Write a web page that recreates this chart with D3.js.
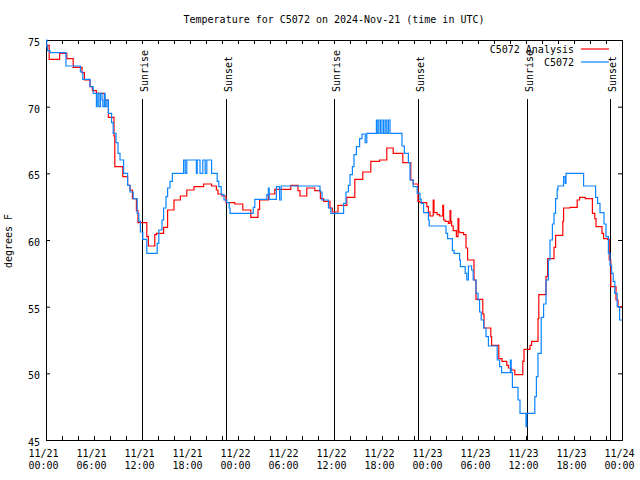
<!DOCTYPE html>
<html>
<head>
<meta charset="utf-8">
<script src="https://cdn.jsdelivr.net/npm/d3@7"></script>
<style>
  html, body { margin: 0; padding: 0; background: #fff; }
  svg { display: block; }
  text { font-family: "DejaVu Sans Mono", monospace; font-size: 10px; fill: #000; }
</style>
</head>
<body>
<svg id="chart" width="640" height="480"></svg>
<script>
// ---------------- DATA ----------------
const titleText = "Temperature for C5072 on 2024-Nov-21 (time in UTC)";
const yLabel = "degrees F";
const startTime = Date.UTC(2024, 10, 21, 0, 0);
const endTime = Date.UTC(2024, 10, 24, 0, 0);
const yTicks = [45, 50, 55, 60, 65, 70, 75];
const seriesNames = ["C5072 Analysis", "C5072"];

// hours since 11/21 00:00 UTC
const analysisHours = [0, 0.4, 1.7, 2.6, 3.4, 4.5, 4.8, 5.5, 5.8, 6.3, 7.3, 7.8, 8.5, 8.6, 9.6, 10.2, 10.5, 10.8, 11.3, 11.5,
  12.6, 12.8, 13.6, 13.8, 14.7, 15.2, 16.0, 16.8, 17.6, 18.5, 19.7, 20.7, 21.3, 21.5, 22.0, 22.5, 23.6, 24.6, 25.6, 26.5,
  26.7, 27.8, 28.6, 30.6, 31.5, 31.75, 32.6, 33.6, 34.3, 34.7, 35.5, 35.8, 36.5, 37.6, 38.6, 39.6, 40.6, 41.7, 42.6, 43.4,
  44.6, 45.6, 45.9, 46.5, 46.75, 47.6, 47.8, 48.0, 48.4, 48.5, 48.9, 49.2, 49.6, 49.7, 49.9, 50.3, 50.5, 50.6, 50.7, 50.9,
  51.3, 51.5, 51.6, 51.75, 52.2, 52.5, 52.7, 53.5, 53.75, 54.6, 54.75, 55.6, 55.7, 56.6, 57.0, 57.6, 57.8, 58.2, 58.6, 59.6,
  59.75, 60.5, 60.7, 61.5, 61.6, 62.5, 62.7, 63.5, 63.7, 64.6, 64.7, 65.5, 66.4, 66.7, 67.4, 68.3, 68.6, 68.75, 69.5, 69.7,
  70.2, 70.4, 70.6, 71.25, 71.5, 72];
const analysisTemps = [74.6, 73.55, 74.0, 73.6, 72.95, 72.55, 72.0, 71.5, 71.2, 71.0, 70.5, 69.2, 67.8, 65.5, 64.75, 64.1, 63.75, 63.1, 62.2, 61.3,
  60.25, 59.55, 60.4, 60.5, 60.95, 62.25, 63.0, 63.3, 63.75, 64.0, 64.2, 64.05, 63.75, 63.45, 63.3, 62.8, 62.7, 62.25, 61.7, 62.3,
  63.0, 63.45, 63.8, 64.1, 63.7, 63.3, 63.9, 63.7, 63.1, 62.9, 62.4, 62.1, 62.6, 63.2, 64.55, 65.1, 65.9, 66.0, 66.9, 66.5,
  65.8, 64.5, 64.2, 62.9, 62.8, 62.5, 62.1, 61.8, 63.0, 62.05, 61.9, 61.8, 62.6, 61.5, 61.4, 61.25, 62.2, 61.4, 61.05, 60.7,
  60.25, 61.6, 60.6, 60.55, 60.4, 59.4, 58.5, 57.0, 55.55, 54.45, 53.4, 52.75, 52.1, 51.1, 50.9, 50.6, 50.4, 50.25, 49.9, 50.9,
  51.8, 52.1, 52.4, 54.1, 55.9, 57.25, 58.6, 59.45, 60.35, 61.4, 62.4, 62.45, 63.0, 63.2, 63.1, 62.0, 61.6, 61.0, 60.5, 60.1,
  60.05, 58.5, 56.5, 55.5, 55.0, 55.0];

const obsHours = [0, 0.1, 0.2, 0.5, 2.5, 4.3, 4.6, 5.5, 5.9, 6.3, 6.4, 6.6, 6.8, 7.0, 7.1, 7.3, 7.4, 7.6, 7.8, 8.2,
  8.4, 8.75, 9.0, 9.25, 9.7, 10.2, 10.5, 10.9, 11.4, 11.6, 11.8, 12.1, 12.6, 13.9, 14.1, 14.5, 14.7, 15.0, 15.2, 15.5,
  15.8, 17.2, 17.4, 17.6, 18.8, 18.9, 19.25, 19.6, 19.9, 20.1, 20.7, 21.4, 21.6, 21.9, 22.25, 22.6, 22.9, 23.0, 25.9, 26.1,
  27.6, 27.8, 27.9, 28.8, 29.2, 29.4, 34.25, 34.5, 35.3, 35.6, 37.2, 37.5, 37.8, 38.0, 38.3, 38.5, 38.8, 39.2, 39.5, 39.9,
  40.1, 41.3, 41.4, 41.6, 41.8, 42.0, 42.2, 42.4, 42.6, 42.8, 43.0, 44.5, 44.8, 45.3, 45.5, 45.9, 46.4, 46.75, 46.9, 47.2,
  47.8, 47.9, 50.0, 50.2, 50.8, 51.0, 51.7, 51.8, 52.4, 52.6, 52.8, 53.2, 53.4, 53.75, 54.0, 54.2, 54.4, 54.7, 55.0, 55.3,
  56.4, 56.7, 56.95, 58.05, 58.15, 58.3, 59.0, 59.25, 60.0, 60.1, 61.1, 61.3, 61.5, 61.9, 62.2, 62.5, 62.8, 63.0, 63.3, 63.5,
  63.7, 63.9, 64.0, 64.7, 64.9, 65.0, 67.2, 68.7, 68.95, 69.25, 69.75, 70.0, 70.3, 70.5, 70.7, 70.9, 71.1, 71.4, 71.7, 72];
const obsTemps = [75.0, 74.5, 74.2, 74.05, 73.05, 72.6, 72.05, 71.5, 71.0, 70.0, 71.0, 70.0, 71.0, 70.5, 70.0, 71.0, 70.0, 70.5, 69.5, 68.8,
  68.0, 67.3, 66.5, 66.0, 65.0, 64.1, 63.6, 63.1, 62.0, 61.4, 60.6, 60.05, 59.0, 59.75, 60.75, 61.5, 62.4, 63.25, 63.9, 64.4,
  65.0, 66.0, 65.0, 66.0, 65.0, 66.0, 65.0, 66.0, 65.0, 66.0, 65.0, 64.4, 64.0, 63.4, 63.0, 62.8, 62.4, 62.0, 62.45, 63.05,
  63.4, 63.9, 63.05, 64.0, 63.0, 64.05, 63.6, 63.0, 62.4, 62.0, 62.75, 63.6, 64.1, 64.9, 65.5, 66.4, 67.0, 67.6, 67.95, 67.3,
  68.0, 69.0, 68.0, 69.0, 68.0, 69.0, 68.0, 69.0, 68.0, 69.0, 68.0, 67.05, 66.5, 65.8, 64.5, 64.0, 63.5, 63.05, 62.75, 62.05,
  61.5, 61.05, 60.5, 60.1, 59.2, 59.0, 58.5, 58.0, 57.5, 57.0, 58.05, 57.75, 57.0, 56.0, 55.5, 54.6, 54.0, 53.4, 52.75, 52.05,
  51.0, 50.5, 50.05, 51.0, 50.05, 48.95, 48.0, 47.0, 46.0, 47.0, 48.25, 49.75, 51.5, 54.2, 55.2, 57.0, 58.5, 60.0, 61.2, 62.0,
  63.1, 63.8, 64.05, 64.75, 64.25, 65.0, 64.05, 63.2, 62.75, 62.05, 61.2, 60.25, 59.0, 58.1, 57.5, 56.9, 56.0, 55.0, 54.0, 54.0];

const sunEventHours = [12.0, 22.5, 36.05, 46.45, 60.07, 70.45];
const sunEventLabels = ["Sunrise", "Sunset", "Sunrise", "Sunset", "Sunrise", "Sunset"];

// ---------------- LAYOUT ----------------
const colors = ["#ff0000", "#0a84ff"];
const margin = { left: 46, top: 40, right: 622, bottom: 440 };
const svg = d3.select("#chart");
const toDate = h => new Date(startTime + h * 3600e3);

const x = d3.scaleUtc().domain([new Date(startTime), new Date(endTime)]).range([margin.left, margin.right]);
const y = d3.scaleLinear().domain([45, 75]).range([margin.bottom, margin.top]);

// title
svg.append("text").attr("x", 334).attr("y", 23).attr("text-anchor", "middle").text(titleText);

// y label
svg.append("text").attr("transform", "translate(12,241) rotate(-90)").attr("text-anchor", "middle").text(yLabel);

// axes
const fmtDay = d3.utcFormat("%m/%d"), fmtTime = d3.utcFormat("%H:%M");
const xTicks = d3.utcHour.every(2).range(new Date(startTime), new Date(endTime + 1));

const xb = svg.append("g").attr("transform", `translate(0,${margin.bottom})`)
  .call(d3.axisBottom(x).tickValues(xTicks).tickSize(-4).tickFormat(""));
xb.select(".domain").remove();
xb.selectAll(".tick").each(function (d) {
  if (d.getUTCHours() % 6 !== 0) return;
  const t = d3.select(this).select("text").attr("y", 0).attr("dy", null).text(null);
  t.append("tspan").attr("x", -3).attr("y", 17).text(fmtDay(d));
  t.append("tspan").attr("x", -3).attr("y", 28.5).text(fmtTime(d));
});
const xt = svg.append("g").attr("transform", `translate(0,${margin.top})`)
  .call(d3.axisTop(x).tickValues(xTicks).tickSize(-4).tickFormat(""));
xt.select(".domain").remove();

const yl = svg.append("g").attr("transform", `translate(${margin.left},0)`)
  .call(d3.axisLeft(y).tickValues(yTicks).tickSize(-4).tickPadding(6));
yl.select(".domain").remove();
yl.selectAll("text").attr("dy", "5.5px");
const yr = svg.append("g").attr("transform", `translate(${margin.right},0)`)
  .call(d3.axisRight(y).tickValues(yTicks).tickSize(-4).tickFormat(""));
yr.select(".domain").remove();

svg.selectAll(".tick line").attr("stroke", "#000");
svg.selectAll(".tick text").style("font-family", "DejaVu Sans Mono").style("font-size", "10px").attr("fill", "#000");

// sunrise / sunset markers
const sun = svg.append("g");
sunEventHours.forEach((h, i) => {
  const sx = Math.round(x(toDate(h))) + 0.5;
  sun.append("line").attr("x1", sx).attr("x2", sx).attr("y1", 99).attr("y2", margin.bottom)
    .attr("stroke", "#000").attr("stroke-width", 1);
  sun.append("text").attr("transform", `translate(${sx + 5},92) rotate(-90)`).text(sunEventLabels[i]);
});

// border
svg.append("rect").attr("x", margin.left + 0.5).attr("y", margin.top + 0.5)
  .attr("width", margin.right - margin.left).attr("height", margin.bottom - margin.top)
  .attr("fill", "none").attr("stroke", "#000");

// series
const line = d3.line().x(d => x(d[0])).y(d => y(d[1])).curve(d3.curveStepAfter);
const series = [
  analysisHours.map((h, i) => [toDate(h), analysisTemps[i]]),
  obsHours.map((h, i) => [toDate(h), obsTemps[i]])
];
series.forEach((s, i) => {
  svg.append("path").datum(s).attr("d", line).attr("fill", "none")
    .attr("stroke", colors[i]).attr("stroke-width", 1.2);
});

// legend
const legendY = [49, 62];
seriesNames.forEach((n, i) => {
  svg.append("text").attr("x", 574).attr("y", legendY[i] + 4).attr("text-anchor", "end").text(n);
  svg.append("line").attr("x1", 581).attr("x2", 609).attr("y1", legendY[i]).attr("y2", legendY[i])
    .attr("stroke", colors[i]).attr("stroke-width", 1.2);
});
</script>
</body>
</html>
